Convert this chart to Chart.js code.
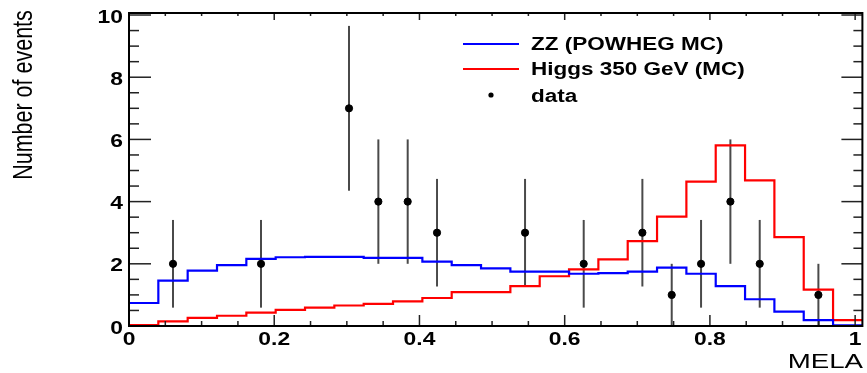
<!DOCTYPE html>
<html>
<head>
<meta charset="utf-8">
<script src="https://cdn.jsdelivr.net/npm/chart.js@4.4.1/dist/chart.umd.min.js"></script>
<style>
body { margin: 0; background: #fff; }
#wrap { width: 867px; height: 373px; }
</style>
</head>
<body>
<div id="wrap"><canvas id="melaChart" width="867" height="373"></canvas></div>
<script>
// MELA distribution: 25 bins between 0 and 1.01
var xRange = [0, 1.01];
var nBins = 25;

var zzValues = [0.74, 1.46, 1.78, 1.96, 2.16, 2.21, 2.22, 2.22, 2.19, 2.19,
                2.07, 1.96, 1.85, 1.75, 1.75, 1.68, 1.70, 1.75, 1.88, 1.68,
                1.28, 0.86, 0.46, 0.19, 0.02];
var higgsValues = [0.03, 0.15, 0.26, 0.33, 0.43, 0.52, 0.59, 0.66, 0.71, 0.79,
                   0.90, 1.09, 1.09, 1.28, 1.60, 1.82, 2.14, 2.73, 3.52, 4.64,
                   5.81, 4.68, 2.86, 1.17, 0.19];

var dataX = [0.0606, 0.1818, 0.303, 0.3434, 0.3838, 0.4242, 0.5454, 0.6262,
             0.707, 0.7474, 0.7878, 0.8282, 0.8686, 0.9494];
var dataY = [2, 2, 7, 4, 4, 3, 3, 2, 3, 1, 2, 4, 2, 1];
var dataErr = [1.41, 1.41, 2.65, 2, 2, 1.73, 1.73, 1.41, 1.73, 1, 1.41, 2, 1.41, 1];

var xTickValues = [0, 0.2, 0.4, 0.6, 0.8, 1];
var xTickLabels = ['0', '0.2', '0.4', '0.6', '0.8', '1'];
var yTickValues = [0, 2, 4, 6, 8, 10];
var yTickLabels = ['0', '2', '4', '6', '8', '10'];

var legendLabels = ['ZZ (POWHEG MC)', 'Higgs 350 GeV (MC)', 'data'];

function histPoints(values) {
    var w = (xRange[1] - xRange[0]) / nBins;
    var pts = values.map(function (v, i) { return {x: xRange[0] + i * w, y: v}; });
    pts.push({x: xRange[1], y: values[values.length - 1]});
    return pts;
}

// the picture is stretched sideways, so text gets a horizontal scale
function stretchText(ctx, text, x, y, font, align, sx) {
    ctx.save();
    ctx.font = font;
    ctx.textAlign = align;
    ctx.textBaseline = 'alphabetic';
    ctx.translate(x, y);
    ctx.scale(sx, 1);
    ctx.fillText(text, 0, 0);
    ctx.restore();
}

function line(ctx, x1, y1, x2, y2) {
    ctx.beginPath();
    ctx.moveTo(x1, y1);
    ctx.lineTo(x2, y2);
    ctx.stroke();
}

var rootFrame = {
    id: 'rootFrame',
    beforeDatasetsDraw: function (chart) {
        var ctx = chart.ctx, xs = chart.scales.x, ys = chart.scales.y;
        ctx.save();
        ctx.strokeStyle = '#4a4a4a';
        ctx.lineWidth = 2;
        for (var i = 0; i < dataX.length; i++) {
            var px = xs.getPixelForValue(dataX[i]);
            line(ctx, px, ys.getPixelForValue(dataY[i] - dataErr[i]),
                 px, ys.getPixelForValue(dataY[i] + dataErr[i]));
        }
        ctx.restore();
    },
    afterDraw: function (chart) {
        var ctx = chart.ctx, a = chart.chartArea, xs = chart.scales.x, ys = chart.scales.y;
        var i, v, p, major;
        ctx.save();
        ctx.strokeStyle = '#222';
        ctx.lineWidth = 1.5;
        for (i = 0; i <= 20; i++) {
            v = i * 0.5;
            p = ys.getPixelForValue(v);
            major = (i % 4 === 0);
            line(ctx, a.left, p, a.left + (major ? 22 : 10), p);
            line(ctx, a.right, p, a.right - (major ? 21 : 9), p);
        }
        for (i = 0; i <= 20; i++) {
            v = i * 0.05;
            p = xs.getPixelForValue(v);
            major = (i % 4 === 0);
            line(ctx, p, a.bottom, p, a.bottom - (major ? 11 : 5));
            line(ctx, p, a.top, p, a.top + (major ? 7 : 3));
        }
        ctx.strokeStyle = '#000';
        ctx.lineWidth = 2;
        ctx.strokeRect(a.left, a.top, a.right - a.left, a.bottom - a.top);

        ctx.fillStyle = '#000';
        var tickFont = 'bold 18px "Liberation Sans", Arial, sans-serif';
        for (i = 0; i < yTickValues.length; i++) {
            stretchText(ctx, yTickLabels[i], 123, ys.getPixelForValue(yTickValues[i]) + 7.5,
                        tickFont, 'right', 1.27);
        }
        for (i = 0; i < xTickValues.length; i++) {
            stretchText(ctx, xTickLabels[i], xs.getPixelForValue(xTickValues[i]), 345,
                        tickFont, 'center', 1.27);
        }
        stretchText(ctx, 'MELA', 863, 368, '20.5px "Liberation Sans", Arial, sans-serif', 'right', 1.35);

        // y title, rotated
        ctx.save();
        ctx.font = '21.5px "Liberation Sans", Arial, sans-serif';
        ctx.textAlign = 'center';
        ctx.textBaseline = 'alphabetic';
        ctx.translate(31.5, 95);
        ctx.scale(1.3, 1);
        ctx.rotate(-Math.PI / 2);
        ctx.fillText('Number of events', 0, 0);
        ctx.restore();

        // legend
        var legFont = 'bold 18px "Liberation Sans", Arial, sans-serif';
        ctx.lineWidth = 2;
        ctx.strokeStyle = '#0000ff';
        line(ctx, 463, 44, 519, 44);
        ctx.strokeStyle = '#ff0000';
        line(ctx, 463, 69, 519, 69);
        ctx.beginPath();
        ctx.arc(491, 95, 2.6, 0, Math.PI * 2);
        ctx.fill();
        stretchText(ctx, legendLabels[0], 531, 50, legFont, 'left', 1.25);
        stretchText(ctx, legendLabels[1], 531, 75, legFont, 'left', 1.25);
        stretchText(ctx, legendLabels[2], 531, 101.5, legFont, 'left', 1.25);
        ctx.restore();
    }
};

var ctx = document.getElementById('melaChart').getContext('2d');
var melaChart = new Chart(ctx, {
    type: 'scatter',
    data: {
        datasets: [{
            label: legendLabels[2],
            data: dataX.map(function (x, i) { return {x: x, y: dataY[i]}; }),
            backgroundColor: '#000',
            borderColor: '#000',
            pointRadius: 3.6,
            pointHoverRadius: 3.6
        }, {
            label: legendLabels[0],
            data: histPoints(zzValues),
            showLine: true,
            stepped: true,
            borderColor: '#0000ff',
            borderWidth: 2.2,
            pointRadius: 0,
            fill: false
        }, {
            label: legendLabels[1],
            data: histPoints(higgsValues),
            showLine: true,
            stepped: true,
            borderColor: '#ff0000',
            borderWidth: 2.2,
            pointRadius: 0,
            fill: false
        }]
    },
    options: {
        responsive: false,
        animation: false,
        layout: {
            padding: {left: 129, right: 2, top: 13, bottom: 47}
        },
        plugins: {
            legend: {display: false},
            tooltip: {enabled: false}
        },
        scales: {
            x: {type: 'linear', min: xRange[0], max: xRange[1], display: false},
            y: {type: 'linear', min: 0, max: 10.065, display: false}
        }
    },
    plugins: [rootFrame]
});
</script>
</body>
</html>
